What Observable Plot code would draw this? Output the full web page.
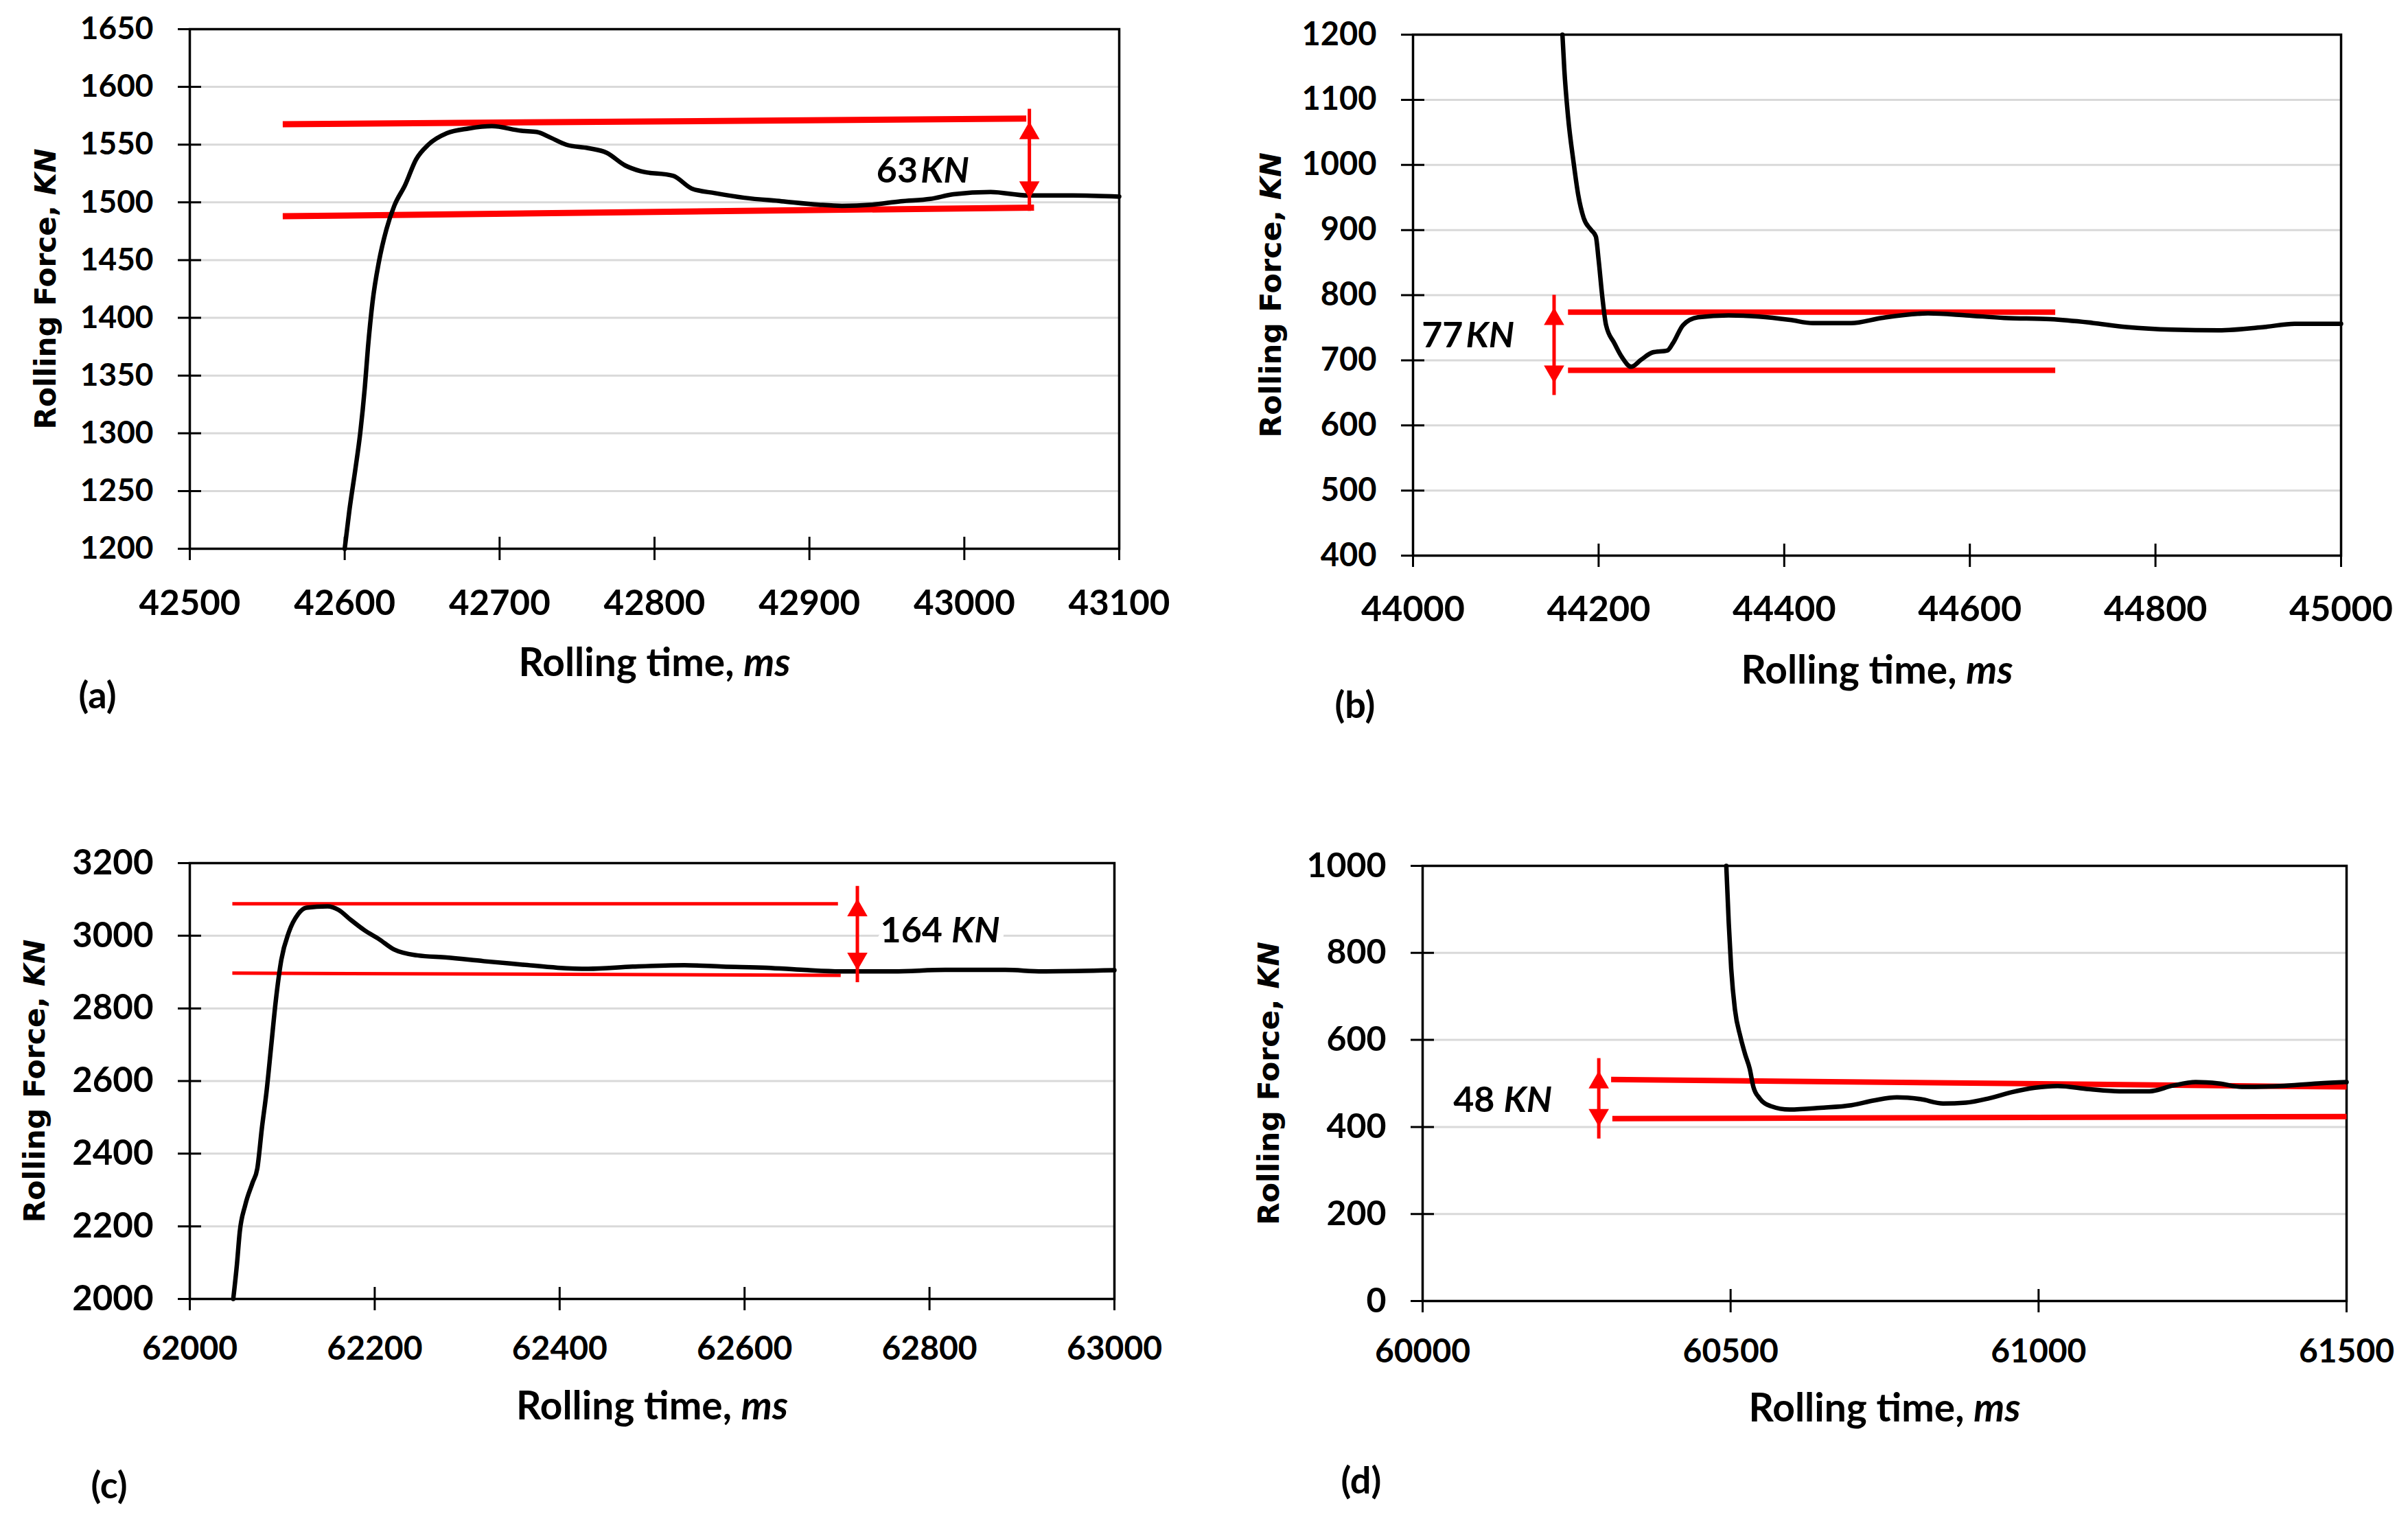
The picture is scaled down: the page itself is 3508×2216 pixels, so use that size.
<!DOCTYPE html>
<html><head><meta charset="utf-8">
<script src="https://cdn.jsdelivr.net/npm/d3@7"></script>
<script src="https://cdn.jsdelivr.net/npm/@observablehq/plot@0.6"></script>
<style>
html,body{margin:0;padding:0;background:#fff;}
#page{position:relative;width:3508px;height:2216px;background:#fff;overflow:hidden;}
.panel{position:absolute;}
</style></head><body><div id="page"></div>
<script>
// ---------- data ----------
// (a)
const timeA  = [42600,42603,42607,42610,42613,42615,42618,42622,42627,42632,42639,42646,42654,42666,42680,42695,42714,42724,42733,42743,42757,42769,42781,42791,42812,42824,42839,42858,42882,42906,42921,42940,42959,42978,42993,43017,43041,43070,43100];
const forceA = [1200,1233,1270,1300,1340,1374,1414,1448,1477,1497,1515,1537,1550,1560,1564,1566,1562,1561,1556,1550,1547,1543,1532,1527,1523,1512,1508,1504,1501,1498,1497,1498,1501,1503,1507,1509,1506,1506,1505];
// (b)
const timeB  = [44161,44163,44167,44173,44178,44184,44192,44197,44200,44204,44208,44217,44225,44235,44246,44258,44274,44280,44291,44307,44340,44373,44406,44431,44472,44505,44555,44596,44637,44687,44728,44769,44818,44868,44917,44950,45000];
const forceB = [1200,1147,1075,1004,954,918,900,890,854,797,754,726,705,690,701,712,715,726,754,766,769,767,762,757,757,765,772,769,765,763,758,751,747,746,751,756,756];
// (c)
const timeC  = [62047,62051,62054,62060,62068,62073,62078,62083,62088,62093,62099,62107,62117,62126,62149,62161,62173,62189,62205,62221,62246,62278,62318,62358,62398,62431,62479,62535,62576,62624,62664,62704,62761,62817,62882,62922,63000];
const forceC = [2000,2096,2184,2259,2321,2359,2471,2571,2696,2821,2934,3009,3059,3077,3081,3071,3046,3015,2990,2962,2946,2940,2930,2921,2912,2909,2915,2919,2915,2912,2906,2902,2902,2906,2906,2902,2905];
// (d)
const timeD  = [60493,60497,60501,60507,60516,60524,60531,60537,60547,60565,60596,60646,60696,60733,60770,60808,60845,60882,60920,60957,60994,61031,61081,61131,61180,61218,61255,61292,61330,61392,61454,61500];
const forceD = [1000,868,763,670,607,565,534,492,466,448,440,444,450,461,468,464,454,456,466,480,490,494,487,482,482,495,503,500,492,494,500,503];

// tick values
const xTicksA = [42500,42600,42700,42800,42900,43000,43100];
const yTicksA = [1200,1250,1300,1350,1400,1450,1500,1550,1600,1650];
const xTicksB = [44000,44200,44400,44600,44800,45000];
const yTicksB = [400,500,600,700,800,900,1000,1100,1200];
const xTicksC = [62000,62200,62400,62600,62800,63000];
const yTicksC = [2000,2200,2400,2600,2800,3000,3200];
const xTicksD = [60000,60500,61000,61500];
const yTicksD = [0,200,400,600,800,1000];

// red envelope lines [x1, y1, x2, y2]
const redA = [[42560,1567.7,43040,1572.5],[42560,1488,43045,1495.5]];
const redB = [[44167,774,44692,774],[44167,684.5,44692,684.5]];
const redC = [[62046,3088,62701,3088],[62046,2897,62704,2891]];
const redD = [[60306,509,61500,492],[60308,419,61500,424]];

// double arrows [x, low, high]
const arrowA = [43042,1503,1570];
const arrowB = [44152,665,781];
const arrowC = [62722,2905,3102];
const arrowD = [60286,401,529];

// annotation labels [x, y, number, unit]
const labelA = [42970,1527,"63","KN"];
const labelB = [44054,737,"77","KN"];
const labelC = [62814,3014,"164","KN"];
const labelD = [60117,461,"48","KN"];

const panelNames = ["(a)","(b)","(c)","(d)"];

// ---------- layout / styling ----------
const canvas = document.createElement("canvas");
const ctx = canvas.getContext("2d");
function tw(text, font){ ctx.font = font; return ctx.measureText(text).width; }

const W = 1754, H = 1108;
const panels = [
  {name: panelNames[0], left: 0, top: 0, time: timeA, force: forceA, xDomain: [42500,43100], yDomain: [1200,1650],
   xTicks: xTicksA, yTicks: yTicksA, red: redA, arrow: arrowA, label: labelA,
   m: [276, 42, 124, 309], yFont: 46, xFont: 51, xPad: 60, redW: 9, gap: 4, halo: false,
   yTitleDx: -209, yTitleLen: 409, xTitleDy: 167, tagDx: -162, tagDy: 215},
  {name: panelNames[1], left: 1754, top: 0, time: timeB, force: forceB, xDomain: [44000,45000], yDomain: [400,1200],
   xTicks: xTicksB, yTicks: yTicksB, red: redB, arrow: arrowB, label: labelB,
   m: [304, 50, 98, 299], yFont: 47, xFont: 52, xPad: 59, redW: 8, gap: 4, halo: false,
   yTitleDx: -206, yTitleLen: 416, xTitleDy: 168, tagDx: -114, tagDy: 219},
  {name: panelNames[2], left: 0, top: 1108, time: timeC, force: forceC, xDomain: [62000,63000], yDomain: [2000,3200],
   xTicks: xTicksC, yTicks: yTicksC, red: redC, arrow: arrowC, label: labelC,
   m: [276, 149, 131, 324], yFont: 51, xFont: 48, xPad: 54, redW: 5, gap: 13, halo: true,
   yTitleDx: -225, yTitleLen: 413, xTitleDy: 157, tagDx: -144, tagDy: 273},
  {name: panelNames[3], left: 1754, top: 1108, time: timeD, force: forceD, xDomain: [60000,61500], yDomain: [0,1000],
   xTicks: xTicksD, yTicks: yTicksD, red: redD, arrow: arrowD, label: labelD,
   m: [318, 153, 90, 321], yFont: 50, xFont: 48, xPad: 55, redW: 8, gap: 13, halo: false,
   yTitleDx: -223, yTitleLen: 413, xTitleDy: 157, tagDx: -119, tagDy: 263}
];

const LATO = "Lato, 'Open Sans', sans-serif";
const DEJAVU = "'DejaVu Sans', Verdana, sans-serif";

function render(p) {
  const series = p.time.map((t, i) => ({t, f: p.force[i]}));
  const red = p.red.map(([x1, y1, x2, y2]) => ({x1, y1, x2, y2}));
  const arrow = [{x: p.arrow[0], lo: p.arrow[1], hi: p.arrow[2]}];
  const label = [{x: p.label[0], y: p.label[1], num: p.label[2], unit: p.label[3]}];

  // y title: "Rolling Force, KN" (KN italic), sized to the measured length
  let yfs = 42;
  const y1w = tw("Rolling Force,", `bold ${yfs}px ${DEJAVU}`);
  const ysp = tw(" ", `bold ${yfs}px ${DEJAVU}`);
  const y2w = tw("KN", `italic bold ${yfs}px ${DEJAVU}`);
  const k = p.yTitleLen / (y1w + ysp + y2w);
  yfs = yfs * k;
  const yP = -(y1w*k - ysp*k - y2w*k) / 2;

  // x title: "Rolling time, ms" (ms italic), total length ~396
  let xfs = 53;
  const x1w = tw("Rolling time,", `bold ${xfs}px Lato`);
  const xsp = tw(" ", `bold ${xfs}px Lato`);
  const x2w = tw("ms", `italic bold ${xfs}px Lato`);
  const kx = 396 / (x1w + xsp + x2w);
  xfs = xfs * kx;
  const xP = -(xsp*kx + x2w*kx - x1w*kx) / 2;

  const labelFont = 52;
  const haloOpts = p.halo ? {stroke: "white", strokeWidth: 20, paintOrder: "stroke", strokeLinejoin: "round"} : {};

  return Plot.plot({
    width: W, height: H,
    marginLeft: p.m[0], marginTop: p.m[1], marginRight: p.m[2], marginBottom: p.m[3],
    style: {fontFamily: LATO, background: "white", color: "black", overflow: "visible"},
    x: {domain: p.xDomain},
    y: {domain: p.yDomain},
    marks: [
      Plot.gridY(p.yTicks, {stroke: "#d9d9d9", strokeOpacity: 1, strokeWidth: 3}),
      Plot.axisY(p.yTicks, {tickSize: 34, dx: 17, strokeWidth: 3, tickFormat: () => "", label: null}),
      Plot.axisY(p.yTicks, {tickSize: 0, tickPadding: 53, fontSize: p.yFont, fontWeight: "bold", tickFormat: d => String(d), label: null}),
      Plot.axisX(p.xTicks, {tickSize: 34, dy: -17, strokeWidth: 3, tickFormat: () => "", label: null}),
      Plot.axisX(p.xTicks, {tickSize: 0, tickPadding: p.xPad, fontSize: p.xFont, fontWeight: "bold", tickFormat: d => String(d), label: null}),
      Plot.frame({stroke: "black", strokeWidth: 3.5}),
      Plot.link(red, {x1: "x1", y1: "y1", x2: "x2", y2: "y2", stroke: "#ff0000", strokeWidth: p.redW}),
      Plot.line(series, {x: "t", y: "f", stroke: "black", strokeWidth: 6.5, curve: "monotone-x", strokeLinejoin: "round"}),
      Plot.ruleX(arrow, {x: "x", y1: "lo", y2: "hi", stroke: "#ff0000", strokeWidth: 5, insetTop: 18, insetBottom: 18}),
      Plot.dot(arrow, {x: "x", y: "hi", symbol: "triangle", r: 11, fill: "#ff0000", dy: 17}),
      Plot.dot(arrow, {x: "x", y: "lo", symbol: "triangle", r: 11, fill: "#ff0000", rotate: 180, dy: -17}),
      Plot.text(label, {x: "x", y: "y", text: "num", textAnchor: "end", fontSize: labelFont, fontWeight: "bold", fill: "black", ...haloOpts}),
      Plot.text(label, {x: "x", y: "y", text: "unit", textAnchor: "start", dx: p.gap, fontSize: labelFont, fontWeight: "bold", fontStyle: "italic", fill: "black", ...haloOpts}),
      // y-axis title
      Plot.text(["Rolling Force,"], {frameAnchor: "left", rotate: -90, textAnchor: "end", lineAnchor: "middle", dx: p.yTitleDx, dy: yP,
        fontFamily: DEJAVU, fontWeight: "bold", fontSize: yfs, fill: "black"}),
      Plot.text(["KN"], {frameAnchor: "left", rotate: -90, textAnchor: "start", lineAnchor: "middle", dx: p.yTitleDx, dy: yP - ysp*k,
        fontFamily: DEJAVU, fontWeight: "bold", fontStyle: "italic", fontSize: yfs, fill: "black"}),
      // x-axis title
      Plot.text(["Rolling time,"], {frameAnchor: "bottom", textAnchor: "end", lineAnchor: "middle", dx: xP, dy: p.xTitleDy,
        fontWeight: "bold", fontSize: xfs, fill: "black"}),
      Plot.text(["ms"], {frameAnchor: "bottom", textAnchor: "start", lineAnchor: "middle", dx: xP + xsp*kx, dy: p.xTitleDy,
        fontWeight: "bold", fontStyle: "italic", fontSize: xfs, fill: "black"}),
      // panel tag
      Plot.text([p.name], {frameAnchor: "bottom-left", textAnchor: "start", lineAnchor: "middle", dx: p.tagDx, dy: p.tagDy,
        fontWeight: "bold", fontSize: 54, fill: "black"})
    ]
  });
}

const page = document.getElementById("page");
for (const p of panels) {
  const div = document.createElement("div");
  div.className = "panel";
  div.style.left = p.left + "px";
  div.style.top = p.top + "px";
  div.appendChild(render(p));
  page.appendChild(div);
}
</script>
</body></html>
